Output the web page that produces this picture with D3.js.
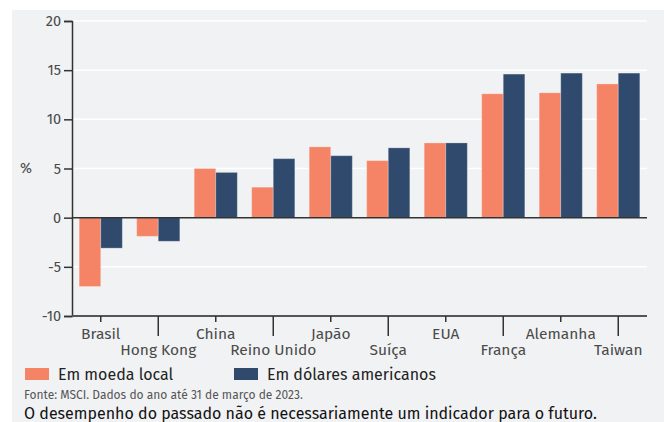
<!DOCTYPE html>
<html lang="pt">
<head>
<meta charset="UTF-8">
<title>Desempenho MSCI</title>
<script src="https://cdn.jsdelivr.net/npm/d3@7"></script>
<style>
  body { margin: 0; background: #fff; }
  svg { display: block; font-family: "Fira Sans", "Noto Sans", sans-serif; }
  .tick text { fill: #4a4a4a; }
</style>
</head>
<body>
<script>
// dados (retorno no ano, %)
var countries = ["Brasil", "Hong Kong", "China", "Reino Unido", "Japão", "Suíça", "EUA", "França", "Alemanha", "Taiwan"];
var localCurrency = [-7.0, -1.9, 5.0, 3.1, 7.2, 5.8, 7.6, 12.6, 12.7, 13.6];
var usDollars = [-3.1, -2.4, 4.6, 6.0, 6.3, 7.1, 7.6, 14.6, 14.7, 14.7];
var seriesNames = ["Em moeda local", "Em dólares americanos"];
var yTicks = [-10, -5, 0, 5, 10, 15, 20];

var colors = ["#f58466", "#2f4a6c"];
var W = 664, H = 422;
var margin = {top: 21, left: 72, right: 17, bottom: 106};

var svg = d3.select("body").append("svg").attr("width", W).attr("height", H);

svg.append("rect").attr("x", 12).attr("y", 10).attr("width", W - 12).attr("height", H - 10).attr("fill", "#f1f2f4");

var x = d3.scaleBand().domain(countries).range([margin.left, W - margin.right]).paddingInner(0.25).paddingOuter(0.125);
var x1 = d3.scaleBand().domain([0, 1]).range([0, x.bandwidth()]);
var y = d3.scaleLinear().domain([-10, 20]).range([H - margin.bottom, margin.top]);

// grid
svg.append("g").selectAll("line").data(yTicks.filter(function(d) { return d !== 0 && d !== -10; }))
  .enter().append("line")
  .attr("x1", margin.left).attr("x2", W - margin.right)
  .attr("y1", function(d) { return y(d); }).attr("y2", function(d) { return y(d); })
  .attr("stroke", "#fff").attr("stroke-width", 1.5);

// barras
var rows = countries.map(function(c, i) { return {c: c, v: [localCurrency[i], usDollars[i]]}; });
var grp = svg.append("g").selectAll("g").data(rows).enter().append("g")
  .attr("transform", function(d) { return "translate(" + x(d.c) + ",0)"; });
grp.selectAll("rect").data(function(d) { return d.v.map(function(v, k) { return {k: k, v: v}; }); })
  .enter().append("rect")
  .attr("x", function(d) { return x1(d.k); })
  .attr("width", x1.bandwidth())
  .attr("y", function(d) { return y(Math.max(0, d.v)); })
  .attr("height", function(d) { return Math.abs(y(d.v) - y(0)); })
  .attr("fill", function(d) { return colors[d.k]; })
  .attr("stroke", "rgba(255,255,255,0.25)").attr("stroke-width", 1);

// linha zero
svg.append("line").attr("x1", margin.left).attr("x2", W - margin.right)
  .attr("y1", y(0)).attr("y2", y(0)).attr("stroke", "#333").attr("stroke-width", 1.5);

// eixo y
var yAxis = svg.append("g").attr("transform", "translate(" + margin.left + ",0)")
  .call(d3.axisLeft(y).tickValues(yTicks).tickFormat(function(d) { return String(d); }).tickSize(8).tickPadding(3))
  .attr("font-family", null).attr("font-size", 14.5);
yAxis.select(".domain").attr("stroke", "#333").attr("stroke-width", 1.5);
yAxis.selectAll(".tick line").attr("stroke", "#333").attr("stroke-width", 1.5);

svg.append("text").attr("x", 26).attr("y", y(5)).attr("dy", "0.32em")
  .attr("text-anchor", "middle").attr("font-size", 14.5).attr("fill", "#4a4a4a").text("%");

// eixo x
var xAxis = svg.append("g").attr("transform", "translate(0," + y(-10) + ")")
  .call(d3.axisBottom(x).tickSizeOuter(0))
  .attr("font-family", null).attr("font-size", 15.5);
xAxis.select(".domain").attr("stroke", "#555").attr("stroke-width", 2)
  .attr("d", "M" + margin.left + ",0H" + (W - margin.right));
xAxis.selectAll(".tick line")
  .attr("y2", function(d, i) { return i % 2 ? 20 : 6; })
  .attr("stroke", "#333").attr("stroke-width", 1.5);
xAxis.selectAll(".tick text")
  .attr("y", function(d, i) { return i % 2 ? 28 : 12; });

// legenda
var leg = svg.append("g");
var legX = [25, 234];
seriesNames.forEach(function(n, i) {
  leg.append("rect").attr("x", legX[i]).attr("y", 368).attr("width", 24).attr("height", 12).attr("fill", colors[i]);
  leg.append("text").attr("x", legX[i] + 33).attr("y", 379.5).attr("font-size", 16).attr("fill", "#222").text(n);
});

svg.append("text").attr("x", 24).attr("y", 399).attr("font-size", 12).attr("fill", "#555")
  .text("Fonte: MSCI. Dados do ano até 31 de março de 2023.");
svg.append("text").attr("x", 24).attr("y", 419).attr("font-size", 16).attr("fill", "#111")
  .text("O desempenho do passado não é necessariamente um indicador para o futuro.");
</script>
</body>
</html>
